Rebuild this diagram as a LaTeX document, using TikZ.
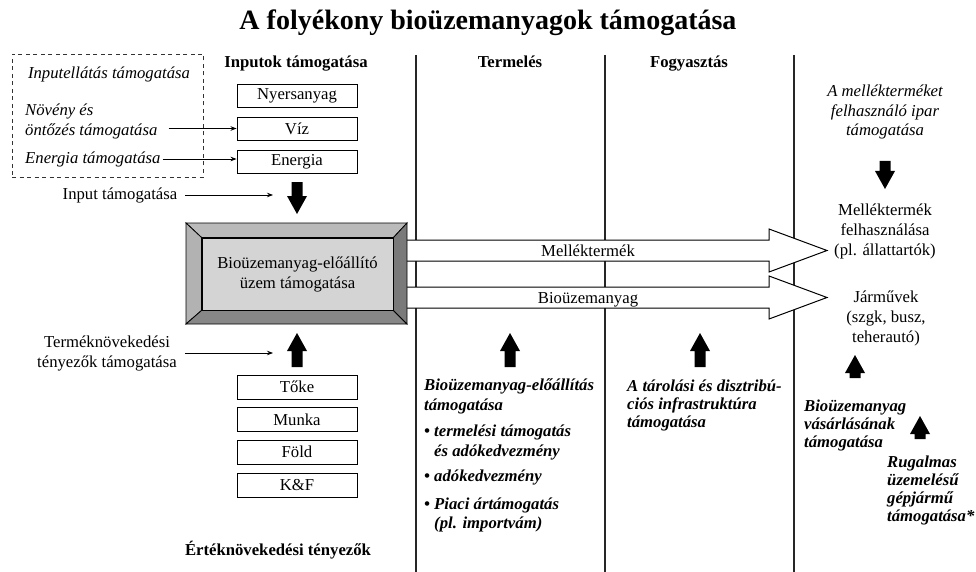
\documentclass[tikz,border=0pt]{standalone}
\usepackage{fontspec}
\setmainfont{Liberation Serif}
\usetikzlibrary{arrows.meta, positioning, calc, backgrounds}

\begin{document}
\begin{tikzpicture}[
  x=1pt, y=-1pt,
  every node/.style={font=\fontsize{16.7}{20}\selectfont, inner sep=2pt},
  maintitle/.style={font=\fontsize{28}{30}\selectfont\bfseries},
  colhead/.style={font=\fontsize{16.7}{20}\selectfont\bfseries, anchor=base},
  inputbox/.style={draw=black, line width=0.9pt, minimum width=120pt, minimum height=23pt, inner sep=0pt},
  supplybox/.style={draw=black!80, dash pattern=on 4pt off 3.5pt, line width=0.9pt,
    minimum width=191pt, minimum height=123pt},
  support/.style={font=\fontsize{16.7}{19.5}\selectfont\itshape, align=left},
  measure/.style={font=\fontsize{16.7}{18}\selectfont\bfseries\itshape, align=left,
    anchor=north west, inner sep=0pt},
  plantface/.style={draw=black, line width=0.8pt, fill=black!17, align=center,
    minimum width=191pt, minimum height=72pt, inner sep=0pt},
  bevel/.style={draw=black, line width=0.8pt},
  divider/.style={draw=black!85, line width=1.6pt},
  bigarrow/.style={draw=black, fill=white, line width=1pt},
  thinarrow/.style={-{Stealth[length=6pt, width=4.5pt]}, line width=0.8pt},
  thickup/.pic={\fill (0,0) -- (10,18) -- (5.5,18) -- (5.5,#1) -- (-5.5,#1) -- (-5.5,18) -- (-10,18) -- cycle;}
]
\useasboundingbox (0,0) rectangle (976,572);

% ----------------- TITLE AND COLUMNS -----------------
\node[maintitle] (title) at (488,23) {A folyékony bioüzemanyagok támogatása};
\node[colhead] (hinput) at (296,68) {Inputok támogatása};
\node[colhead] (hprod) at (510,68) {Termelés};
\node[colhead] (hcons) at (689,68) {Fogyasztás};

\draw[divider] (416,55) -- (416,572);
\draw[divider] (605,55) -- (605,572);
\draw[divider] (794,55) -- (794,572);

% ----------------- INPUTS -----------------
\node[supplybox] (supply) at (107.5,115.5) {};
\node[support] (nsupply) at (109,74) {Inputellátás támogatása};
\node[support, anchor=west] (ncrop) at (23,121.5) {Növény és\\öntőzés támogatása};
\node[support, anchor=west] (nenergy) at (23,159) {Energia támogatása};

\node[inputbox] (raw) at (297,95.5) {Nyersanyag};
\node[inputbox] (water) at (297,128.5) {Víz};
\node[inputbox] (energy) at (297,161.5) {Energia};

\draw[thinarrow] ($(ncrop.east |- water.west)+(9,0)$) -- (water.west);
\draw[thinarrow] (nenergy.east) -- (nenergy.east -| energy.west);

\node (ninput) at (120,195) {Input támogatása};
\coordinate (inputtip) at (273,195);
\draw[thinarrow] ([xshift=6pt]ninput.east) -- (inputtip);
\pic[rotate=180] at (297,214) {thickup=32};

% ----------------- PLANT -----------------
\coordinate (pnw) at (186,223);
\coordinate (pne) at (407,223);
\coordinate (pse) at (407,324);
\coordinate (psw) at (186,324);

% white flows over the column lines
\coordinate (byprodtip) at (827,250.5);
\coordinate (fueltip) at (827,297.5);
\filldraw[bigarrow] (407,240) -- (769,240) -- (769,229) -- (byprodtip) -- (769,272) -- (769,261) -- (407,261);
\filldraw[bigarrow] (407,287) -- (769,287) -- (769,276) -- (fueltip) -- (769,319) -- (769,308) -- (407,308);
\node[anchor=base] (byprodlbl) at (588,256) {Melléktermék};
\node[anchor=base] (fuellbl) at (588,303) {Bioüzemanyag};

\node[plantface] (plant) at (297.5,274) {Bioüzemanyag-előállító\\üzem támogatása};
\filldraw[bevel, fill=black!27] (pnw) -- (pne) -- (plant.north east) -- (plant.north west) -- cycle;
\filldraw[bevel, fill=black!30] (pnw) -- (plant.north west) -- (plant.south west) -- (psw) -- cycle;
\filldraw[bevel, fill=black!47] (psw) -- (plant.south west) -- (plant.south east) -- (pse) -- cycle;
\filldraw[bevel, fill=black!52] (pne) -- (pse) -- (plant.south east) -- (plant.north east) -- cycle;

% ----------------- VALUE ADDING FACTORS -----------------
\node[align=center] (ngrowth) at (107,353) {Terméknövekedési\\tényezők támogatása};
\coordinate (growthtip) at (273,353);
\draw[thinarrow] ([xshift=6pt]ngrowth.east) -- (growthtip);
\pic at (297,333) {thickup=34};

\node[inputbox, minimum height=24pt] (capital) at (297,387) {Tőke};
\node[inputbox, minimum height=24pt] (labour) at (297,419.5) {Munka};
\node[inputbox, minimum height=24pt] (land) at (297,452) {Föld};
\node[inputbox, minimum height=24pt] (rnd) at (297,485) {K\&F};
\node[colhead] (factors) at (278,555) {Értéknövekedési tényezők};

% ----------------- PRODUCTION / CONSUMPTION -----------------
\pic at (510,333) {thickup=34};
\node[measure, font=\fontsize{16.7}{19.5}\selectfont\bfseries\itshape] (nprod) at (424,379)
  {Bioüzemanyag-előállítás\\támogatása\\[7pt]
   \textbullet\ termelési támogatás\\\phantom{\textbullet}\ és adókedvezmény\\[6pt]
   \textbullet\ adókedvezmény\\[8pt]
   \textbullet\ Piaci ártámogatás\\\phantom{\textbullet}\ (pl. importvám)};

\pic at (700,333) {thickup=34};
\node[measure] (ncons) at (627,380) {A tárolási és disztribú-\\ciós infrastruktúra\\támogatása};

% ----------------- END USE -----------------
\node[support, align=center] (industry) at (885,112) {A mellékterméket\\felhasználó ipar\\támogatása};
\pic[rotate=180] at (885,189) {thickup=28};
\node[align=center] (byproduse) at (885,231) {Melléktermék\\felhasználása\\(pl. állattartók)};
\node[align=center] (vehicles) at (886,318) {Járművek\\(szgk, busz,\\teherautó)};

\pic at (855,355) {thickup=23};
\node[measure] (nbuy) at (804,400) {Bioüzemanyag\\vásárlásának\\támogatása};
\pic at (920,416) {thickup=23};
\node[measure] (nflex) at (887,456) {Rugalmas\\üzemelésű\\gépjármű\\támogatása*};

\end{tikzpicture}
\end{document}
